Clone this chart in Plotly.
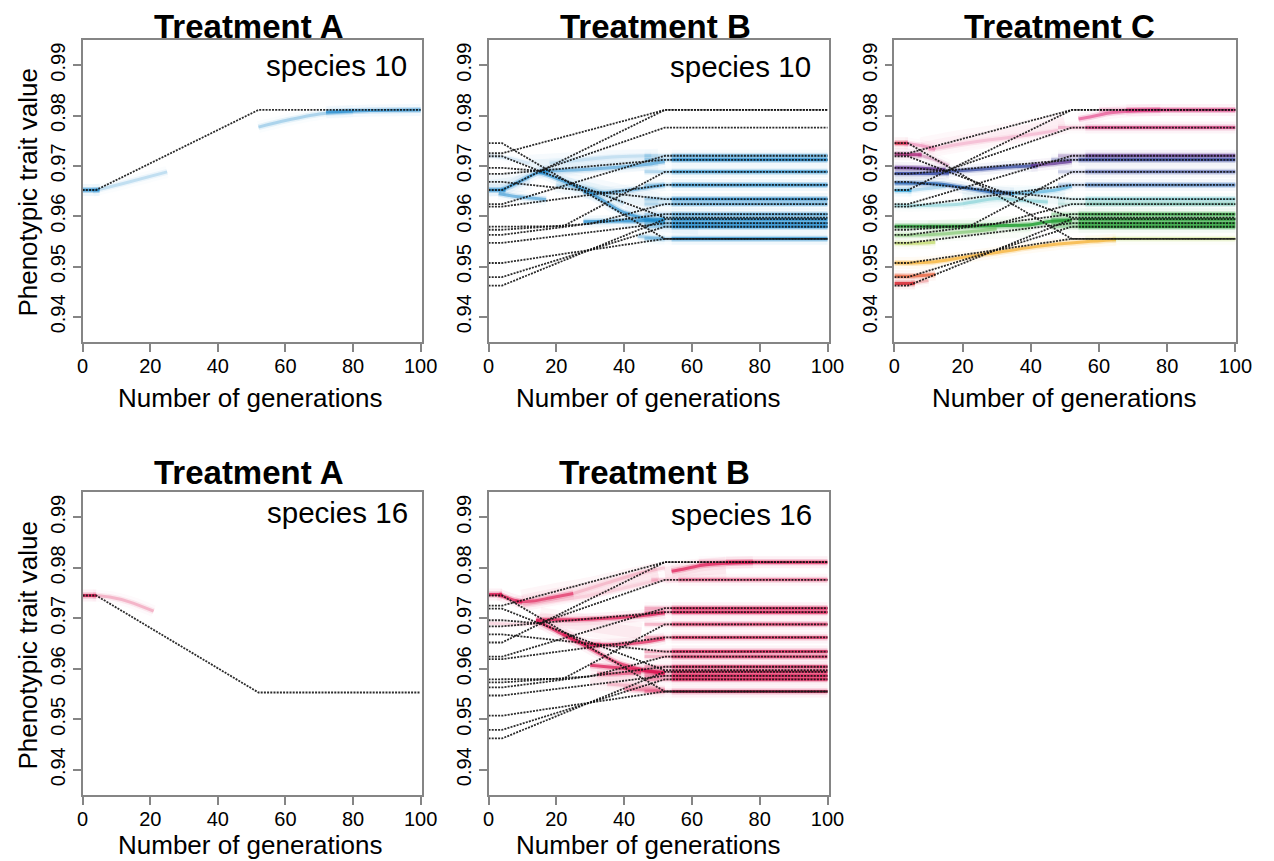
import plotly.graph_objects as go

W, H = 1274, 861
FONT = "Liberation Sans, Arial, Helvetica, sans-serif"

# ---------------- data ----------------
gen_ticks = [0, 20, 40, 60, 80, 100]
trait_ticks = [0.94, 0.95, 0.96, 0.97, 0.98, 0.99]
trait_tick_labels = ["0.94", "0.95", "0.96", "0.97", "0.98", "0.99"]

GEN_BRANCH = 4
GEN_SETTLE = 52
GEN_MAX = 100

# lineage trajectories (black dotted) used in Treatments B and C
lin_start = [0.9745, 0.9725, 0.9719, 0.9696, 0.9684, 0.9668, 0.9652, 0.9624,
             0.9619, 0.9579, 0.9573, 0.9563, 0.9547, 0.9507, 0.9479, 0.9462]
lin_mid_gen = [None, None, 15, 15, None, None, None, None,
               None, 22, 30, None, None, None, None, None]
lin_mid_val = [None, None, 0.9690, 0.9690, None, None, None, None,
               None, 0.9580, 0.9585, None, None, None, None, None]
lin_end = [0.9555, 0.9811, 0.9597, 0.9776, 0.9712, 0.9634, 0.9811, 0.9720,
           0.9662, 0.9688, 0.9624, 0.9604, 0.9586, 0.9555, 0.9579, 0.9594]

# Treatment A single trajectories
a10_start, a10_end = 0.9652, 0.9811
a16_start, a16_end = 0.9745, 0.9553

# population density clouds: (generations, trait values, intensity)
clouds_A10 = [
    ([0, 5], [0.9652, 0.9652], 1.0),
    ([3, 12, 25], [0.9650, 0.9665, 0.9688], 0.25),
    ([52, 60, 70, 80], [0.9777, 0.9790, 0.9803, 0.9808], 0.35),
    ([72, 85, 100], [0.9807, 0.9810, 0.9811], 0.8),
]
clouds_A16 = [
    ([0, 4], [0.9745, 0.9745], 1.0),
    ([3, 8, 14, 21], [0.9745, 0.9742, 0.9732, 0.9714], 0.3),
]
clouds_B10 = [
    ([0, 5], [0.9652, 0.9652], 1.0),
    ([4, 9, 14, 18], [0.9652, 0.9668, 0.9685, 0.9690], 0.8),
    ([15, 20, 30, 40, 47, 52], [0.9689, 0.9690, 0.9693, 0.9698, 0.9703, 0.9708], 0.55),
    ([15, 22, 30, 39, 45, 52], [0.9688, 0.9670, 0.9646, 0.9610, 0.9597, 0.9587], 0.75),
    ([3, 8, 14, 17], [0.9645, 0.9639, 0.9635, 0.9633], 0.6),
    ([28, 35, 42, 52], [0.9647, 0.9647, 0.9652, 0.9662], 0.55),
    ([28, 35, 45, 52], [0.9589, 0.9590, 0.9591, 0.9594], 0.85),
    ([44, 52], [0.9560, 0.9555], 0.35),
    ([0, 6, 12], [0.9720, 0.9715, 0.9705], 0.15),
    ([18, 28, 38, 48], [0.9705, 0.9712, 0.9718, 0.9720], 0.15),
    ([20, 30, 40], [0.9660, 0.9655, 0.9625], 0.2),
]
haze_B10 = [
    ([12, 25, 38, 50], [0.9700, 0.9705, 0.9710, 0.9712]),
    ([20, 30, 40, 50], [0.9670, 0.9655, 0.9640, 0.9625]),
    ([40, 52, 62], [0.9600, 0.9590, 0.9585]),
    ([0, 6, 12], [0.9660, 0.9665, 0.9675]),
]
finals_B10_vals = [0.9720, 0.9712, 0.9688, 0.9662, 0.9634, 0.9624, 0.9604,
                   0.9594, 0.9586, 0.9579, 0.9555]
finals_B10_from = [50, 50, 50, 50, 50, 50, 50, 50, 50, 50, 50]
finals_B10_int = [0.6, 1.0, 0.85, 0.9, 0.9, 0.65, 0.7, 1.0, 1.0, 1.0, 1.0]

clouds_B16 = [
    ([0, 4], [0.9747, 0.9747], 1.0),
    ([3, 7, 10], [0.9747, 0.9737, 0.9732], 0.9),
    ([8, 13, 18, 25], [0.9732, 0.9734, 0.9740, 0.9749], 0.75),
    ([25, 35, 45, 52], [0.9749, 0.9770, 0.9790, 0.9800], 0.2),
    ([14, 17, 25, 35, 45, 52], [0.9696, 0.9697, 0.9697, 0.9700, 0.9705, 0.9711], 0.9),
    ([14, 20, 27, 33], [0.9696, 0.9675, 0.9652, 0.9646], 0.9),
    ([30, 38, 45, 52], [0.9648, 0.9648, 0.9652, 0.9660], 0.8),
    ([22, 30, 38, 46, 52], [0.9670, 0.9640, 0.9612, 0.9597, 0.9590], 0.8),
    ([30, 38, 45, 52], [0.9607, 0.9602, 0.9597, 0.9592], 0.9),
    ([32, 38, 45], [0.9589, 0.9590, 0.9592], 0.6),
    ([40, 46, 52], [0.9560, 0.9558, 0.9556], 0.45),
    ([54, 58, 63, 70, 78], [0.9793, 0.9798, 0.9805, 0.9809, 0.9811], 0.85),
    ([10, 20, 30, 40, 50], [0.9725, 0.9735, 0.9745, 0.9760, 0.9775], 0.15),
    ([0, 8, 14], [0.9690, 0.9688, 0.9690], 0.15),
    ([35, 45, 52], [0.9570, 0.9565, 0.9560], 0.2),
]
haze_B16 = [
    ([10, 20, 30, 40, 50], [0.9735, 0.9748, 0.9760, 0.9775, 0.9790]),
    ([15, 25, 35, 45], [0.9700, 0.9690, 0.9680, 0.9670]),
    ([30, 40, 50], [0.9580, 0.9575, 0.9570]),
    ([52, 60, 70], [0.9790, 0.9795, 0.9800]),
]
finals_B16_vals = [0.9811, 0.9776, 0.9720, 0.9712, 0.9688, 0.9662, 0.9634,
                   0.9624, 0.9604, 0.9594, 0.9586, 0.9579, 0.9555]
finals_B16_from = [66, 52, 50, 50, 50, 50, 50, 50, 50, 50, 50, 50, 50]
finals_B16_int = [1.0, 0.6, 0.9, 1.0, 0.8, 0.8, 0.9, 0.8, 0.9, 1.0, 1.0, 1.0, 0.9]

clouds_C = [
    ([0, 4], [0.9745, 0.9745], 1.0, "crimson"),
    ([3, 8, 12], [0.9745, 0.9740, 0.9733], 0.45, "pink"),
    ([0, 8], [0.9723, 0.9722], 1.0, "magenta"),
    ([7, 12, 16], [0.9722, 0.9712, 0.9700], 0.35, "magenta"),
    ([10, 18, 28, 38, 48], [0.9732, 0.9742, 0.9752, 0.9760, 0.9770], 0.25, "pink"),
    ([0, 8, 15], [0.9696, 0.9695, 0.9692], 1.0, "purple"),
    ([0, 10, 16], [0.9685, 0.9685, 0.9686], 1.0, "indigo"),
    ([15, 25, 35, 42], [0.9688, 0.9693, 0.9698, 0.9700], 0.9, "indigo"),
    ([40, 46, 52], [0.9700, 0.9704, 0.9709], 0.85, "purple"),
    ([0, 13, 20, 27.5, 35], [0.9666, 0.9664, 0.9657, 0.9649, 0.9645], 0.95, "blue"),
    ([34, 42, 48, 52], [0.9645, 0.9648, 0.9653, 0.9660], 0.6, "lightblue"),
    ([0, 5], [0.9651, 0.9651], 0.9, "lightblue"),
    ([4, 10, 15], [0.9651, 0.9655, 0.9660], 0.3, "lightblue"),
    ([0, 8, 18, 30, 36, 45], [0.9621, 0.9621, 0.9623, 0.9635, 0.9632, 0.9628], 0.45, "teal"),
    ([0, 10, 20, 30, 40, 46, 52], [0.9580, 0.9580, 0.9580, 0.9581, 0.9583, 0.9590, 0.9592], 1.0, "green"),
    ([0, 10, 22, 30], [0.9562, 0.9563, 0.9569, 0.9575], 0.6, "lightgreen"),
    ([0, 6, 12], [0.9546, 0.9546, 0.9548], 0.6, "yellowgreen"),
    ([0, 5, 11, 20, 30, 42, 56, 65], [0.9507, 0.9507, 0.9509, 0.9518, 0.9528, 0.9540, 0.9549, 0.9553], 0.8, "orange"),
    ([0, 6, 12], [0.9481, 0.9481, 0.9484], 0.85, "redorange"),
    ([0, 6], [0.9466, 0.9466], 1.0, "red"),
    ([5, 10], [0.9467, 0.9472], 0.3, "red"),
    ([54, 58, 63, 70, 78], [0.9793, 0.9798, 0.9805, 0.9809, 0.9811], 0.8, "pink"),
]
haze_C = [
    ([8, 20, 35, 50], [0.9735, 0.9750, 0.9765, 0.9785], "pink"),
    ([20, 35, 50], [0.9635, 0.9640, 0.9635], "teal"),
    ([10, 25, 40], [0.9570, 0.9575, 0.9580], "lightgreen"),
]
finals_C_vals = [0.9811, 0.9776, 0.9720, 0.9712, 0.9688, 0.9662, 0.9634,
                 0.9624, 0.9604, 0.9594, 0.9586, 0.9579, 0.9555]
finals_C_from = [64, 52, 52, 50, 52, 52, 52, 52, 50, 50, 50, 50, 60]
finals_C_int = [1.0, 0.85, 0.9, 1.0, 0.7, 0.75, 0.6, 0.6, 0.9, 1.0, 1.0, 1.0, 0.4]
finals_C_color = ["pinkmag", "pinkmag", "purple", "indigo", "indigo", "blue", "teal",
                  "tealgreen", "green", "green", "green", "green", "yellowgreen"]

BLUE = (25, 135, 205)
CRIMSON = (222, 22, 82)
C_COLORS = {
    "red": (214, 32, 42), "redorange": (232, 83, 42), "orange": (245, 168, 29),
    "yellowgreen": (170, 205, 50), "green": (30, 158, 46), "lightgreen": (100, 185, 80),
    "teal": (70, 185, 195), "tealgreen": (50, 165, 140), "lightblue": (42, 159, 216),
    "blue": (31, 95, 176), "indigo": (50, 70, 160), "purple": (95, 45, 145),
    "magenta": (170, 40, 120), "crimson": (216, 27, 60), "pink": (228, 70, 140),
    "pinkmag": (215, 45, 120),
}

# ---------------- layout geometry (pixels) ----------------
col_px = [(78, 423), (491, 837), (904, 1252)]
row_px = [(40, 342), (492, 795)]


def px_x(x):
    return x / W


def px_y(y):
    return 1 - y / H


fig = go.Figure()

panels = {
    "A10": (1, 0, 0), "B10": (2, 1, 0), "C": (3, 2, 0), "A16": (4, 0, 1), "B16": (5, 1, 1),
}


def axref(i):
    return ("x" if i == 1 else f"x{i}", "y" if i == 1 else f"y{i}")


def add_path(i, gens, vals, rgba, width):
    xa, ya = axref(i)
    fig.add_trace(go.Scatter(
        x=gens, y=vals, mode="lines", xaxis=xa, yaxis=ya,
        line=dict(color=rgba, width=width, shape="spline", smoothing=0.8),
        hoverinfo="skip", showlegend=False))


def add_cloud(i, gens, vals, rgb, inten):
    r, g, b = rgb
    for w, a in ((12, 0.06), (6, 0.26), (3, 0.8)):
        add_path(i, gens, vals, f"rgba({r},{g},{b},{min(a * inten, 1):.3f})", w)


def add_haze(i, gens, vals, rgb):
    r, g, b = rgb
    add_path(i, gens, vals, f"rgba({r},{g},{b},0.04)", 22)
    add_path(i, gens, vals, f"rgba({r},{g},{b},0.05)", 12)


def add_final(i, val, start, rgb, inten):
    add_cloud(i, [start - 4, start + 4], [val, val], rgb, inten * 0.35)
    add_cloud(i, [start + 4, GEN_MAX], [val, val], rgb, inten)


def add_lineage(i, start, mg, mv, end):
    xa, ya = axref(i)
    gens = [0, GEN_BRANCH] + ([mg] if mg is not None else []) + [GEN_SETTLE, GEN_MAX]
    vals = [start, start] + ([mv] if mv is not None else []) + [end, end]
    fig.add_trace(go.Scatter(
        x=gens, y=vals, mode="lines", xaxis=xa, yaxis=ya,
        line=dict(color="rgba(20,20,20,0.9)", width=1.8, dash="2px,1.2px"),
        hoverinfo="skip", showlegend=False))


# haze and clouds
for g, v in haze_B10:
    add_haze(2, g, v, BLUE)
for g, v in haze_B16:
    add_haze(5, g, v, CRIMSON)
for g, v, c in haze_C:
    add_haze(3, g, v, C_COLORS[c])
for g, v, k in clouds_A10:
    add_cloud(1, g, v, BLUE, k)
for g, v, k in clouds_A16:
    add_cloud(4, g, v, CRIMSON, k)
for g, v, k in clouds_B10:
    add_cloud(2, g, v, BLUE, k)
for val, f, k in zip(finals_B10_vals, finals_B10_from, finals_B10_int):
    add_final(2, val, f, BLUE, k)
for g, v, k in clouds_B16:
    add_cloud(5, g, v, CRIMSON, k)
for val, f, k in zip(finals_B16_vals, finals_B16_from, finals_B16_int):
    add_final(5, val, f, CRIMSON, k)
for g, v, k, c in clouds_C:
    add_cloud(3, g, v, C_COLORS[c], k)
for val, f, k, c in zip(finals_C_vals, finals_C_from, finals_C_int, finals_C_color):
    add_final(3, val, f, C_COLORS[c], k)

# black dotted trajectories
add_lineage(1, a10_start, None, None, a10_end)
add_lineage(4, a16_start, None, None, a16_end)
for i in (2, 3, 5):
    for s, mg, mv, e in zip(lin_start, lin_mid_gen, lin_mid_val, lin_end):
        add_lineage(i, s, mg, mv, e)

# axes
layout_axes = {}
for name, (i, c, r) in panels.items():
    x0, x1 = col_px[c]
    y0, y1 = row_px[r]
    xk = "xaxis" if i == 1 else f"xaxis{i}"
    yk = "yaxis" if i == 1 else f"yaxis{i}"
    xa, ya = axref(i)
    common = dict(showline=True, linecolor="#858585", linewidth=1.6, mirror=True,
                  ticks="outside", ticklen=8, tickwidth=1.6, tickcolor="#858585",
                  showgrid=False, zeroline=False)
    layout_axes[xk] = dict(domain=[px_x(x0), px_x(x1)], anchor=ya, range=[0, 100.3],
                           tickvals=gen_ticks, ticktext=[str(t) for t in gen_ticks],
                           ticklabelstandoff=-3,
                           tickfont=dict(family=FONT, size=20, color="black"), **common)
    layout_axes[yk] = dict(domain=[px_y(y1), px_y(y0)], anchor=xa, range=[0.935, 0.995],
                           tickvals=trait_ticks, ticktext=trait_tick_labels, tickangle=-90,
                           tickfont=dict(family=FONT, size=20, color="black"), **common)

annotations = []


def ann(text, x, y, size, bold=False, xanchor="center", angle=0):
    annotations.append(dict(
        text=f"<b>{text}</b>" if bold else text, x=px_x(x), y=px_y(y),
        xref="paper", yref="paper", showarrow=False, xanchor=xanchor, yanchor="middle",
        textangle=angle, font=dict(family=FONT, size=size, color="black")))


# panel titles
ann("Treatment A", 247, 27, 33, bold=True)
ann("Treatment B", 661, 27, 33, bold=True)
ann("Treatment C", 1072, 27, 33, bold=True)
ann("Treatment A", 247, 472, 33, bold=True)
ann("Treatment B", 660, 472, 33, bold=True)
# species labels
ann("species 10", 410, 65, 29.5, xanchor="right")
ann("species 10", 821, 66, 29.5, xanchor="right")
ann("species 16", 411, 512, 29.5, xanchor="right")
ann("species 16", 822, 514, 29.5, xanchor="right")
# axis titles
ann("Phenotypic trait value", 22, 192, 26, angle=-90)
ann("Phenotypic trait value", 22, 645, 26, angle=-90)
ann("Number of generations", 248, 398, 26)
ann("Number of generations", 653, 398, 26)
ann("Number of generations", 1077, 398, 26)
ann("Number of generations", 248, 845, 26)
ann("Number of generations", 653, 845, 26)

fig.update_layout(
    width=W, height=H, autosize=False,
    margin=dict(l=0, r=0, t=0, b=0),
    paper_bgcolor="white", plot_bgcolor="white",
    showlegend=False, annotations=annotations,
    font=dict(family=FONT),
    **layout_axes,
)

fig.write_html("out.html", config={"displayModeBar": False},
               post_script="document.body.style.margin='0';")
